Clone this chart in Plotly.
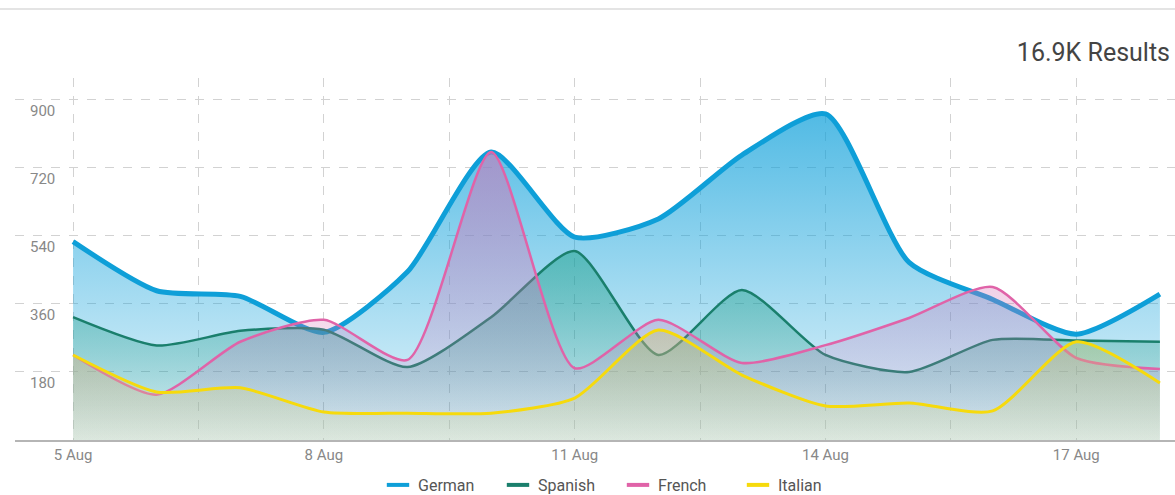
import plotly.graph_objects as go

dates = ["2024-08-05", "2024-08-06", "2024-08-07", "2024-08-08", "2024-08-09",
         "2024-08-10", "2024-08-11", "2024-08-12", "2024-08-13", "2024-08-14",
         "2024-08-15", "2024-08-16", "2024-08-17", "2024-08-18"]
german = [525, 395, 380, 285, 445, 762, 537, 585, 754, 863, 470, 372, 280, 386]
spanish = [325, 250, 289, 292, 193, 325, 500, 225, 397, 225, 180, 265, 263, 260]
french = [225, 120, 260, 318, 212, 762, 190, 318, 204, 251, 323, 405, 217, 188]
italian = [225, 127, 138, 74, 71, 71, 111, 291, 172, 90, 98, 77, 260, 151]

y_ticks = [180, 360, 540, 720, 900]
title_text = "16.9K Results"

series = [
    ("German", german, "#0e9fd8", 5, "rgba(14,160,218,0.10)", "rgba(14,160,218,0.72)"),
    ("Spanish", spanish, "#1a7f6c", 2.5, "rgba(20,140,115,0.05)", "rgba(25,160,135,0.5)"),
    ("French", french, "#e063a8", 2.5, "rgba(210,110,180,0.05)", "rgba(215,115,180,0.55)"),
    ("Italian", italian, "#f6da0c", 3, "rgba(220,225,165,0.25)", "rgba(200,190,90,0.35)"),
]

W, H = 1175, 495
PL, PT, PB = 15, 78, 55   # plot area: x 15..1175, y 78..440
plot_h = H - PT - PB

fig = go.Figure()
for name, vals, color, width, c0, c1 in series:
    fig.add_trace(go.Scatter(
        x=dates, y=vals, mode="lines", name=name, showlegend=False,
        line=dict(color=color, width=width, shape="spline", smoothing=0.65),
        fill="tozeroy",
        fillgradient=dict(type="vertical", start=0, stop=max(vals),
                          colorscale=[[0, c0], [1, c1]]),
        hoverinfo="skip",
    ))
for name, vals, color, width, c0, c1 in series:
    fig.add_trace(go.Scatter(
        x=[None], y=[None], mode="markers", name=name,
        marker=dict(symbol="line-ew-open", size=16, color=color,
                    line=dict(color=color, width=4)),
    ))

fig.update_layout(
    width=W, height=H,
    margin=dict(l=PL, r=0, t=PT, b=PB, autoexpand=False),
    paper_bgcolor="white", plot_bgcolor="white",
    font=dict(family="Roboto", color="#888888", size=15),
    title=dict(text=title_text, x=1170 / W, xanchor="right", xref="container",
               y=1 - 52 / H, yanchor="middle", yref="container",
               font=dict(family="Roboto", size=25, color="#444444")),
    legend=dict(orientation="h", x=(618 - PL) / 1160, xanchor="center",
                y=-(485 - 440) / plot_h, yanchor="middle",
                font=dict(family="Roboto", size=16, color="#555555"),
                entrywidth=75, itemsizing="trace"),
    hovermode=False,
    shapes=[dict(type="line", xref="paper", yref="paper", x0=-0.02, x1=1.01,
                 y0=(440 - 9) / plot_h, y1=(440 - 9) / plot_h,
                 line=dict(color="#e4e4e4", width=2))],
)
fig.update_xaxes(
    type="date",
    range=["2024-08-04 07:20", "2024-08-18 04:20"],
    tick0="2024-08-05", dtick=3 * 86400000, tickformat="%-d %b",
    showgrid=True, gridcolor="#d2d2d2", griddash="dash", gridwidth=1,
    minor=dict(dtick=1.5 * 86400000, tick0="2024-08-05", showgrid=True,
               gridcolor="#d2d2d2", griddash="dash", gridwidth=1),
    showline=True, linecolor="#b5b5b5", linewidth=1.5,
    ticks="", tickfont=dict(size=15, color="#888888"),
)
fig.update_yaxes(
    range=[0, 958], tickvals=y_ticks,
    showgrid=True, gridcolor="#d2d2d2", griddash="dash", gridwidth=1,
    zeroline=False, showline=False,
    ticklabelposition="inside", ticklabelstandoff=12, ticklabelshift=11,
    tickfont=dict(size=15, color="#888888"),
)

fig.write_html(
    "out.html",
    config={"displayModeBar": False},
    post_script="document.body.style.margin='0';document.body.style.overflow='hidden';",
)
